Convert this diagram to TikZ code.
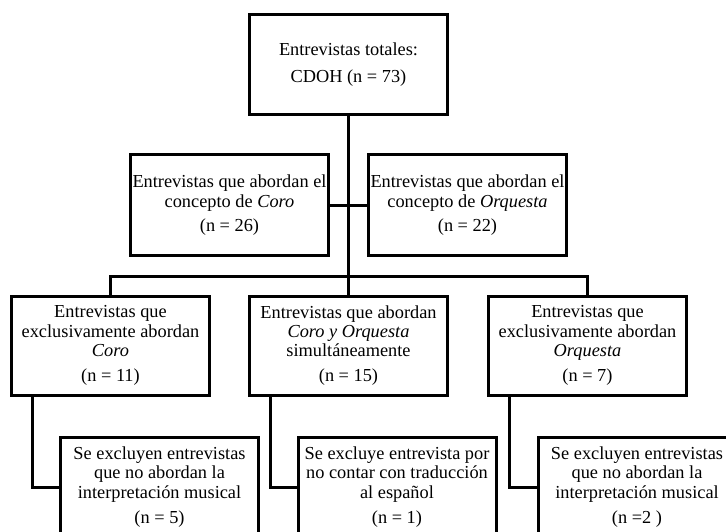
\documentclass[tikz,border=0pt]{standalone}
\usepackage{fontspec}
\setmainfont{Liberation Serif}
\usetikzlibrary{positioning}
\tikzset{
    stage/.style = {
        draw,
        line width=3bp,
        outer sep=0pt,
        inner sep=0pt,
        minimum width=198bp,
        minimum height=100bp,
        align=center,
        font=\fontsize{18.4}{19.5}\selectfont,
        },
    short stage/.style = {
        minimum height=99bp,
        },
    link/.style = {
        line width=3bp,
        },
}

\begin{document}
\begin{tikzpicture}[x=1bp, y=1bp]
            \clip (0,0) rectangle (726,-532);

            \node[stage] (total) at (348.5,-65) {Entrevistas totales:\\[7.5bp] CDOH (n = 73)};
            \node[stage, below left=40bp and 20bp of total.south] (coro) {Entrevistas que abordan el\\ concepto de \textit{Coro}\\[4.5bp] (n = 26)};
            \node[stage, below right=40bp and 20bp of total.south] (orq) {Entrevistas que abordan el\\ concepto de \textit{Orquesta}\\[4.5bp] (n = 22)};

            \node[stage, short stage, below=181bp of total] (ambos) {Entrevistas que abordan\\ \textit{Coro y Orquesta}\\ simultáneamente\\[5.5bp] (n = 15)};
            \node[stage, short stage, left=40bp of ambos] (solocoro) {Entrevistas que\\ exclusivamente abordan\\ \textit{Coro}\\[5.5bp] (n = 11)};
            \node[stage, short stage, right=41bp of ambos] (soloorq) {Entrevistas que\\ exclusivamente abordan\\ \textit{Orquesta}\\[5.5bp] (n = 7)};

            \node[stage, below right=42bp and 49bp of solocoro.south west] (exclcoro) {Se excluyen entrevistas\\ que no abordan la\\ interpretación musical\\[5.5bp] (n = 5)};
            \node[stage, below right=42bp and 48.5bp of ambos.south west] (exclambos) {Se excluye entrevista por\\ no contar con traducción\\ al español\\[5.5bp] (n = 1)};
            \node[stage, below right=42bp and 49.5bp of soloorq.south west] (exclorq) {Se excluyen entrevistas\\ que no abordan la\\ interpretación musical\\[5.5bp] (n =2 )};

            \draw[link] (total) -- (ambos);
            \draw[link] (coro) -- (orq);
            \draw[link] (solocoro.north) -- ++(0,20bp) -| (soloorq.north);

            \draw[link] ([xshift=21bp]solocoro.south west) |- (exclcoro);
            \draw[link] ([xshift=20.5bp]ambos.south west) |- (exclambos);
            \draw[link] ([xshift=20.5bp]soloorq.south west) |- (exclorq);
        \end{tikzpicture}
\end{document}
